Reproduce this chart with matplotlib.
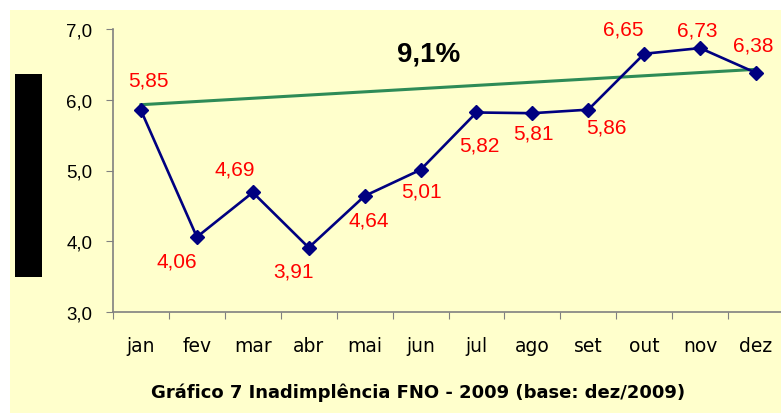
import matplotlib
matplotlib.use("Agg")
import matplotlib.pyplot as plt
from matplotlib.patches import Rectangle
from matplotlib.ticker import FuncFormatter, FixedLocator

months = ["jan", "fev", "mar", "abr", "mai", "jun", "jul", "ago", "set", "out", "nov", "dez"]
values = [5.85, 4.06, 4.69, 3.91, 4.64, 5.01, 5.82, 5.81, 5.86, 6.65, 6.73, 6.38]
trend_values = [5.93, 6.43]
growth_label = "9,1%"
caption = "Gráfico 7 Inadimplência FNO - 2009 (base: dez/2009)"
y_ticks = [3.0, 4.0, 5.0, 6.0, 7.0]

# label offsets in pixels (dx, dy)
label_offsets = [(7, 30), (-20, -24), (-18, 23), (-15, -23), (4, -24), (1, -21),
                 (3, -33), (1, -20), (18, -17), (-21, 25), (-3, 18), (-3, 28)]

W, H = 781, 414
fig = plt.figure(figsize=(W / 100, H / 100), dpi=100)
fig.patch.set_facecolor("white")
bg = "#FFFFCC"
fig.patches.append(Rectangle((10 / W, 0), 1, (H - 11) / H, transform=fig.transFigure,
                             facecolor=bg, edgecolor="none", zorder=-10))
fig.patches.append(Rectangle((15 / W, (H - 278) / H), 27 / W, 203 / H, transform=fig.transFigure,
                             facecolor="black", edgecolor="none", zorder=5))

left, right, bottom, top = 113 / W, 784 / W, (H - 313) / H, (H - 30) / H
ax = fig.add_axes([left, bottom, right - left, top - bottom])
ax.set_facecolor("none")

x = list(range(len(months)))
ax.plot(x, values, color="#000080", lw=1.9, marker="D", markersize=7.5, zorder=3)
ax.plot([x[0], x[-1]], trend_values, color="#2E8B57", lw=2.2, zorder=2)

for xi, v, (dx, dy) in zip(x, values, label_offsets):
    ax.annotate(f"{v:.2f}".replace(".", ","), (xi, v), xytext=(dx, dy),
                textcoords="offset pixels", ha="center", va="center",
                color="#FF0000", fontsize=15, family="Liberation Sans", zorder=4)

ax.text(5.14, 6.65, growth_label, ha="center", va="center", fontsize=20,
        fontweight="bold", family="Liberation Sans", color="black")

ax.set_xlim(-0.5, 11.5)
ax.set_ylim(3.0, 7.0)
ax.set_yticks(y_ticks)
ax.yaxis.set_major_formatter(FuncFormatter(lambda v, p: f"{v:.1f}".replace(".", ",")))
ax.xaxis.set_major_locator(FixedLocator([i - 0.5 for i in range(13)]))
ax.xaxis.set_minor_locator(FixedLocator(x))
ax.set_xticklabels([], minor=False)
ax.set_xticklabels(months, minor=True)
ax.tick_params(axis="x", which="major", length=5, color="#808080", direction="out")
ax.tick_params(axis="x", which="minor", length=0, pad=17, labelsize=13.5)
ax.tick_params(axis="y", length=5, color="#808080", direction="out", pad=10, labelsize=13.5)
for lab in ax.get_xticklabels(minor=True) + ax.get_yticklabels():
    lab.set_family("Liberation Sans")

for s in ["top", "right"]:
    ax.spines[s].set_visible(False)
for s in ["left", "bottom"]:
    ax.spines[s].set_color("#808080")
    ax.spines[s].set_linewidth(1.2)
ax.spines["bottom"].set_position(("data", 3.0))

fig.text(418 / W, (H - 393) / H, caption, ha="center", va="center", fontsize=13,
         fontweight="bold", family="DejaVu Sans", color="black")

fig.savefig("out.png", dpi=100, facecolor=fig.get_facecolor())
